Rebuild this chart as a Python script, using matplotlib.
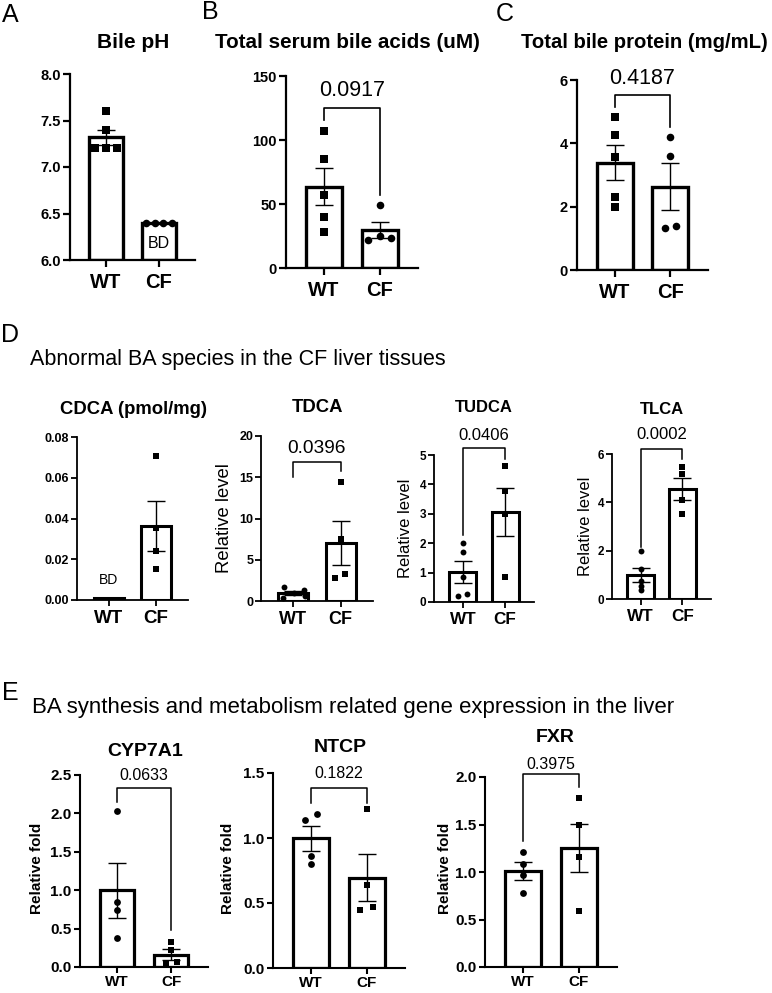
import matplotlib
matplotlib.use("Agg")
import matplotlib.pyplot as plt
import numpy as np

plt.rcParams['font.family'] = ['Liberation Sans', 'DejaVu Sans']

W, H = 772, 993
groups = ["WT", "CF"]

# --- data ---
ph_wt = [7.6, 7.4, 7.2, 7.2, 7.2]
ph_cf = [6.4, 6.4, 6.4, 6.4]
serum_wt = [107, 85, 57, 40, 28]
serum_cf = [49, 22.2, 24.8, 23.5]
protein_wt = [4.84, 4.26, 3.56, 2.32, 1.98]
protein_cf = [4.19, 3.6, 1.32, 1.39]
cdca_wt_bar = 0.0008  # below detection
cdca_cf = [0.0707, 0.0351, 0.024, 0.015]
tdca_wt = [1.65, 0.4, 1.0, 1.33, 0.6]
tdca_cf = [14.4, 7.5, 2.8, 3.3]
tudca_wt = [2.02, 1.70, 0.86, 0.19, 0.27]
tudca_cf = [4.64, 3.78, 2.99, 0.85]
tlca_wt = [1.99, 1.26, 0.75, 0.53, 0.36]
tlca_cf = [5.45, 5.17, 4.09, 3.51]
cyp_wt = [2.03, 0.85, 0.74, 0.38]
cyp_cf = [0.33, 0.22, 0.04, 0.06]
ntcp_wt = [1.14, 1.185, 0.86, 0.80]
ntcp_cf = [1.22, 0.636, 0.45, 0.47]
fxr_wt = [1.21, 1.08, 0.97, 0.78]
fxr_cf = [1.78, 1.49, 1.16, 0.59]

p_serum = "0.0917"
p_protein = "0.4187"
p_tdca = "0.0396"
p_tudca = "0.0406"
p_tlca = "0.0002"
p_cyp = "0.0633"
p_ntcp = "0.1822"
p_fxr = "0.3975"


def px_axes(fig, left, right, top, bottom):
    return fig.add_axes([left / W, 1 - bottom / H, (right - left) / W, (bottom - top) / H])


def px_text(fig, x, y, s, **kw):
    kw.setdefault('ha', 'center')
    kw.setdefault('va', 'center')
    fig.text(x / W, 1 - y / H, s, **kw)


def style(ax, ylim, yticks, fmt, tick_fs, x_fs, spine_lw, ticklen, xpad):
    ax.set_xlim(-0.68, 1.68)
    ax.set_ylim(ylim)
    for s in ['top', 'right']:
        ax.spines[s].set_visible(False)
    for s in ['left', 'bottom']:
        ax.spines[s].set_linewidth(spine_lw)
    ax.set_yticks(yticks)
    ax.set_yticklabels([fmt.format(t) for t in yticks], fontsize=tick_fs, fontweight='bold')
    ax.set_xticks([0, 1])
    ax.set_xticklabels(groups, fontsize=x_fs, fontweight='bold')
    ax.tick_params(axis='both', width=spine_lw, length=ticklen)
    ax.tick_params(axis='y', pad=1.5)
    ax.tick_params(axis='x', pad=xpad)


def bars(ax, wt, cf, wt_off, cf_off, markers, base, bar_lw, ms, wt_bar=None):
    for i, (vals, off, mk) in enumerate(zip([wt, cf], [wt_off, cf_off], markers)):
        vals = np.asarray(vals, float)
        if len(vals):
            m = vals.mean()
            sem = vals.std(ddof=1) / np.sqrt(len(vals))
        else:
            m, sem = wt_bar, 0
        ax.bar(i, m - base, bottom=base, width=0.64, facecolor='white',
               edgecolor='black', linewidth=bar_lw, zorder=2)
        if sem > 0:
            ax.errorbar(i, m, yerr=sem, color='black', capsize=6.5,
                        elinewidth=1.0, capthick=1.0, zorder=3)
        if len(vals):
            ax.scatter(i + np.asarray(off), vals, marker=mk, s=ms, color='black',
                       linewidths=0, zorder=4, clip_on=False)


def bracket(ax, top, leg0, leg1, text, ty, fs, lw=1.2):
    ax.plot([0, 0, 1, 1], [leg0, top, top, leg1], color='black', lw=lw,
            clip_on=False, zorder=5)
    ax.text(0.5, ty, text, ha='center', va='center', fontsize=fs, clip_on=False)


fig = plt.figure(figsize=(W / 100, H / 100), dpi=100)

# ---------------- A ----------------
ax = px_axes(fig, 70, 195, 74, 260)
style(ax, (6.0, 8.0), [6.0, 6.5, 7.0, 7.5, 8.0], "{:.1f}", 10.5, 14.5, 1.6, 5, 4)
bars(ax, ph_wt, ph_cf, [0, 0, -0.2, 0, 0.2], [-0.24, -0.08, 0.08, 0.25],
     ['s', 'o'], 6.0, 2.4, 30)
ax.text(1, 6.18, "BD", ha='center', va='center', fontsize=11.5)
px_text(fig, 133, 43, "Bile pH", fontsize=15, fontweight='bold')

# ---------------- B ----------------
ax = px_axes(fig, 286, 418, 76, 268)
style(ax, (0, 150), [0, 50, 100, 150], "{:.0f}", 10.5, 14.5, 1.6, 5, 4)
bars(ax, serum_wt, serum_cf, [0, 0, 0, 0, 0], [0, -0.22, 0, 0.2],
     ['s', 'o'], 0, 2.4, 30)
bracket(ax, 124.7, 115.6, 56.9, p_serum, 139, 15.5)
px_text(fig, 347, 43, "Total serum bile acids (uM)", fontsize=14.9, fontweight='bold')

# ---------------- C ----------------
ax = px_axes(fig, 577, 708, 80, 270)
style(ax, (0, 6), [0, 2, 4, 6], "{:.0f}", 10.5, 14.5, 1.6, 5, 4)
bars(ax, protein_wt, protein_cf, [0, 0, 0, 0, 0], [0, 0, -0.1, 0.1],
     ['s', 'o'], 0, 2.4, 30)
bracket(ax, 5.53, 5.16, 4.53, p_protein, 6.05, 15.5)
px_text(fig, 644, 43, "Total bile protein (mg/mL)", fontsize=14.6, fontweight='bold')

# ---------------- D ----------------
ax = px_axes(fig, 77, 188, 437, 600)
style(ax, (0, 0.08), [0, 0.02, 0.04, 0.06, 0.08], "{:.2f}", 9, 13.5, 1.3, 4, 3)
bars(ax, [], cdca_cf, [], [0, 0, 0, 0], ['s', 's'], 0, 2.2, 18, wt_bar=cdca_wt_bar)
ax.text(0, 0.0097, "BD", ha='center', va='center', fontsize=10)
px_text(fig, 134, 410, "CDCA (pmol/mg)", fontsize=13.3, fontweight='bold')

ax = px_axes(fig, 261, 373, 436, 601)
style(ax, (0, 20), [0, 5, 10, 15, 20], "{:.0f}", 9, 13, 1.3, 4, 3)
bars(ax, tdca_wt, tdca_cf, [-0.19, -0.21, 0.01, 0.22, 0.25], [0, 0, -0.12, 0.1],
     ['o', 's'], 0, 2.2, 18)
bracket(ax, 16.8, 15.0, 15.7, p_tdca, 18.5, 13.8, 1.1)
px_text(fig, 318, 408, "TDCA", fontsize=13.3, fontweight='bold')
px_text(fig, 225, 518, "Relative level", fontsize=13.3, rotation=90)

ax = px_axes(fig, 434, 534, 455, 602)
style(ax, (0, 5), [0, 1, 2, 3, 4, 5], "{:.0f}", 8.5, 12.3, 1.3, 4, 3)
bars(ax, tudca_wt, tudca_cf, [0, 0, 0, -0.11, 0.11], [0, 0, 0, 0],
     ['o', 's'], 0, 2.2, 18)
bracket(ax, 5.23, 2.28, 4.85, p_tudca, 5.68, 12, 1.1)
px_text(fig, 484, 407, "TUDCA", fontsize=12, fontweight='bold')
px_text(fig, 405, 528, "Relative level", fontsize=12, rotation=90)

ax = px_axes(fig, 612, 711, 454, 599)
style(ax, (0, 6), [0, 2, 4, 6], "{:.0f}", 8.5, 12.3, 1.3, 4, 3)
bars(ax, tlca_wt, tlca_cf, [0, 0, 0, 0, 0], [0, 0, 0, 0],
     ['o', 's'], 0, 2.2, 18)
bracket(ax, 6.2, 2.15, 5.8, p_tlca, 6.8, 12, 1.1)
px_text(fig, 662, 410, "TLCA", fontsize=12, fontweight='bold')
px_text(fig, 585, 526, "Relative level", fontsize=12, rotation=90)

# ---------------- E ----------------
ax = px_axes(fig, 80, 208, 775, 967)
style(ax, (0, 2.5), [0, 0.5, 1.0, 1.5, 2.0, 2.5], "{:.1f}", 11, 11, 1.5, 4.5, 1.5)
bars(ax, cyp_wt, cyp_cf, [0, 0, 0, 0], [0, 0, -0.1, 0.1], ['o', 's'], 0, 2.3, 24)
bracket(ax, 2.33, 2.15, 0.485, p_cyp, 2.5, 11.5, 1.1)
px_text(fig, 145, 752, "CYP7A1", fontsize=14, fontweight='bold')
px_text(fig, 37, 868, "Relative fold", fontsize=11, fontweight='bold', rotation=90)

ax = px_axes(fig, 273, 405, 773, 968)
style(ax, (0, 1.5), [0, 0.5, 1.0, 1.5], "{:.1f}", 11, 11, 1.5, 4.5, 1.5)
bars(ax, ntcp_wt, ntcp_cf, [-0.11, 0.11, 0, 0], [0, 0, -0.12, 0.11], ['o', 's'], 0, 2.3, 24)
bracket(ax, 1.385, 1.27, 1.27, p_ntcp, 1.5, 11.5, 1.1)
px_text(fig, 340, 747, "NTCP", fontsize=14, fontweight='bold')
px_text(fig, 228, 868, "Relative fold", fontsize=11, fontweight='bold', rotation=90)

ax = px_axes(fig, 485, 617, 777, 967)
style(ax, (0, 2.0), [0, 0.5, 1.0, 1.5, 2.0], "{:.1f}", 11, 11, 1.5, 4.5, 1.5)
bars(ax, fxr_wt, fxr_cf, [0, 0, 0, 0], [0, 0, 0, 0], ['o', 's'], 0, 2.3, 24)
bracket(ax, 2.03, 1.325, 1.90, p_fxr, 2.13, 11.5, 1.1)
px_text(fig, 555, 737, "FXR", fontsize=14, fontweight='bold')
px_text(fig, 445, 868, "Relative fold", fontsize=11, fontweight='bold', rotation=90)

# ---------------- panel letters and section captions ----------------
for lab, x, y in [("A", 10, 15), ("B", 210, 12), ("C", 505, 14), ("D", 10, 335), ("E", 10, 693)]:
    px_text(fig, x, y, lab, fontsize=18)
px_text(fig, 30, 360, "Abnormal BA species in the CF liver tissues", fontsize=15.5, ha='left')
px_text(fig, 32, 707, "BA synthesis and metabolism related gene expression in the liver",
        fontsize=16, ha='left')

fig.savefig("out.png", dpi=100)
